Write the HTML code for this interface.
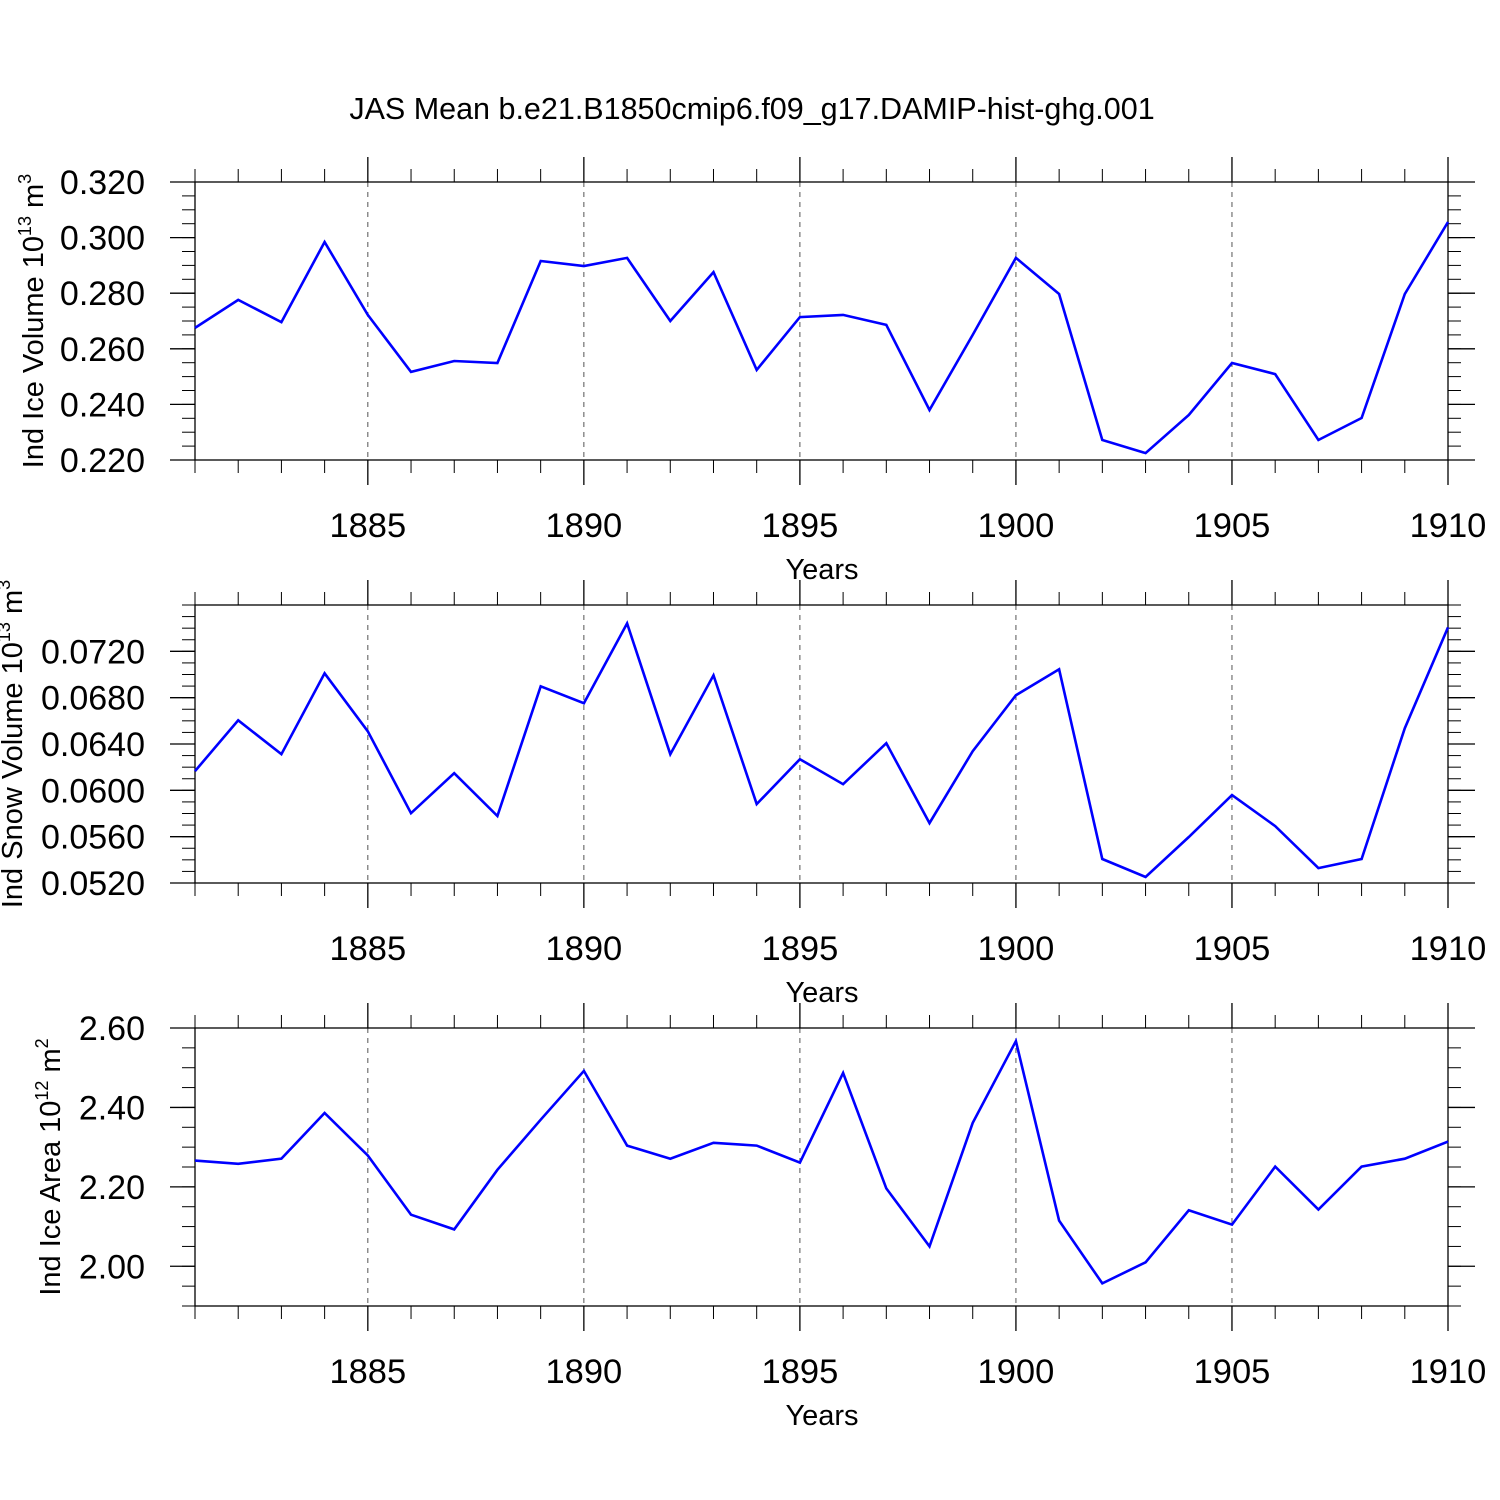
<!DOCTYPE html>
<html><head><meta charset="utf-8"><style>
html,body{margin:0;padding:0;background:#fff;}
svg{display:block;font-family:"Liberation Sans",Arial,sans-serif;}
</style></head><body>
<svg id="chart" width="1500" height="1500" viewBox="0 0 1500 1500" xmlns="http://www.w3.org/2000/svg">
<rect width="1500" height="1500" fill="#fff"/>
<text x="752" y="119" font-size="30.5" text-anchor="middle">JAS Mean b.e21.B1850cmip6.f09_g17.DAMIP-hist-ghg.001</text>
</svg>
<script>
const years = [1881,1882,1883,1884,1885,1886,1887,1888,1889,1890,1891,1892,1893,1894,1895,1896,1897,1898,1899,1900,1901,1902,1903,1904,1905,1906,1907,1908,1909,1910];
const xTickLabels = ["1885","1890","1895","1900","1905","1910"];
const iceVolume = [0.2675,0.2776,0.2696,0.2984,0.2722,0.2517,0.2556,0.2549,0.2916,0.2898,0.2927,0.2700,0.2876,0.2524,0.2714,0.2722,0.2686,0.2380,0.2650,0.2927,0.2797,0.2272,0.2225,0.2362,0.2549,0.2509,0.2272,0.2351,0.2797,0.3056];
const snowVolume = [0.06166,0.06605,0.06312,0.07010,0.06510,0.05803,0.06148,0.05778,0.06898,0.06752,0.07441,0.06312,0.06993,0.05881,0.06269,0.06053,0.06407,0.05717,0.06338,0.06821,0.07045,0.05407,0.05252,0.05597,0.05959,0.05691,0.05329,0.05407,0.06536,0.07407];
const iceArea = [2.266,2.258,2.271,2.386,2.279,2.130,2.093,2.243,2.369,2.492,2.304,2.271,2.311,2.304,2.261,2.487,2.196,2.050,2.361,2.567,2.115,1.957,2.010,2.141,2.105,2.251,2.143,2.251,2.271,2.314];
const iceVolTicks = ["0.220","0.240","0.260","0.280","0.300","0.320"];
const snowVolTicks = ["0.0520","0.0560","0.0600","0.0640","0.0680","0.0720"];
const iceAreaTicks = ["2.00","2.20","2.40","2.60"];

const NS="http://www.w3.org/2000/svg";
const svg=document.getElementById('chart');
function mk(tag,attrs,parent){const e=document.createElementNS(NS,tag);for(const k in attrs)e.setAttribute(k,attrs[k]);(parent||svg).appendChild(e);return e;}
const X0=195,X1=1448,XMIN=1881,XMAX=1910;
function xs(v){return X0+(v-XMIN)/(XMAX-XMIN)*(X1-X0);}

function panel(name,top,ymin,ymax,yticks,minorStep,data,titleParts,titleX){
  const bot=top+278;
  const ys=v=>bot-(v-ymin)/(ymax-ymin)*278;
  const g=mk('g',{});
  
  
  xTickLabels.forEach(t=>{const x=xs(+t);
    const l=mk('line',{x1:x,x2:x,y1:top,y2:bot,stroke:'#555','stroke-width':1,'stroke-dasharray':'5,5'},g);
    
    
  });
  const fr=mk('rect',{x:X0,y:top,width:X1-X0,height:278,fill:'none',stroke:'#000','stroke-width':1.3},g);
  
  
  years.forEach(yr=>{const x=xs(yr);const major=(yr%5===0);const len=major?25:13;
    mk('line',{x1:x,x2:x,y1:top,y2:top-len,stroke:'#000','stroke-width':major?1.3:1},g);
    mk('line',{x1:x,x2:x,y1:bot,y2:bot+len,stroke:'#000','stroke-width':major?1.3:1},g);
  });
  xTickLabels.forEach(t=>{
    const tx=mk('text',{x:xs(+t),y:bot+77,'font-size':34.5,'text-anchor':'middle'},g);
    tx.textContent=t;
    
    
  });
  const xt=mk('text',{x:822,y:bot+119,'font-size':29,'text-anchor':'middle'},g);
  xt.textContent='Years';
  
  
  const n=Math.round((ymax-ymin)/minorStep);
  for(let i=0;i<=n;i++){const v=ymin+i*minorStep;const y=ys(v);
    mk('line',{x1:X0,x2:X0-13,y1:y,y2:y,stroke:'#000','stroke-width':1},g);
    mk('line',{x1:X1,x2:X1+13,y1:y,y2:y,stroke:'#000','stroke-width':1},g);
  }
  yticks.forEach(t=>{const y=ys(+t);
    mk('line',{x1:X0,x2:X0-25,y1:y,y2:y,stroke:'#000','stroke-width':1.3},g);
    mk('line',{x1:X1,x2:X1+27,y1:y,y2:y,stroke:'#000','stroke-width':1.3},g);
    const tx=mk('text',{x:145,y:y+12,'font-size':34,'text-anchor':'end'},g);
    tx.textContent=t;
    
    
  });
  const cy=top+139;
  const yt=mk('text',{x:0,y:0,'font-size':29,'text-anchor':'middle',transform:`translate(${titleX},${cy}) rotate(-90)`},g);
  
  
  const a=mk('tspan',{},yt);a.textContent=titleParts[0];
  const b=mk('tspan',{dy:-12,'font-size':18},yt);b.textContent=titleParts[1];
  const c=mk('tspan',{dy:12},yt);c.textContent=titleParts[2];
  const d=mk('tspan',{dy:-12,'font-size':18},yt);d.textContent=titleParts[3];
  const pts=data.map((v,i)=>xs(years[i]).toFixed(1)+','+ys(v).toFixed(1)).join(' ');
  const pl=mk('polyline',{points:pts,fill:'none',stroke:'#0000ff','stroke-width':2.6,'stroke-linejoin':'miter'},g);
  
  
}
panel('ice-volume',182,0.220,0.320,iceVolTicks,0.005,iceVolume,['Ind Ice Volume 10','13',' m','3'],43);
panel('snow-volume',605,0.0520,0.0760,snowVolTicks,0.001,snowVolume,['Ind Snow Volume 10','13',' m','3'],22);
panel('ice-area',1028,1.90,2.60,iceAreaTicks,0.05,iceArea,['Ind Ice Area 10','12',' m','2'],60);
</script>
</body></html>
